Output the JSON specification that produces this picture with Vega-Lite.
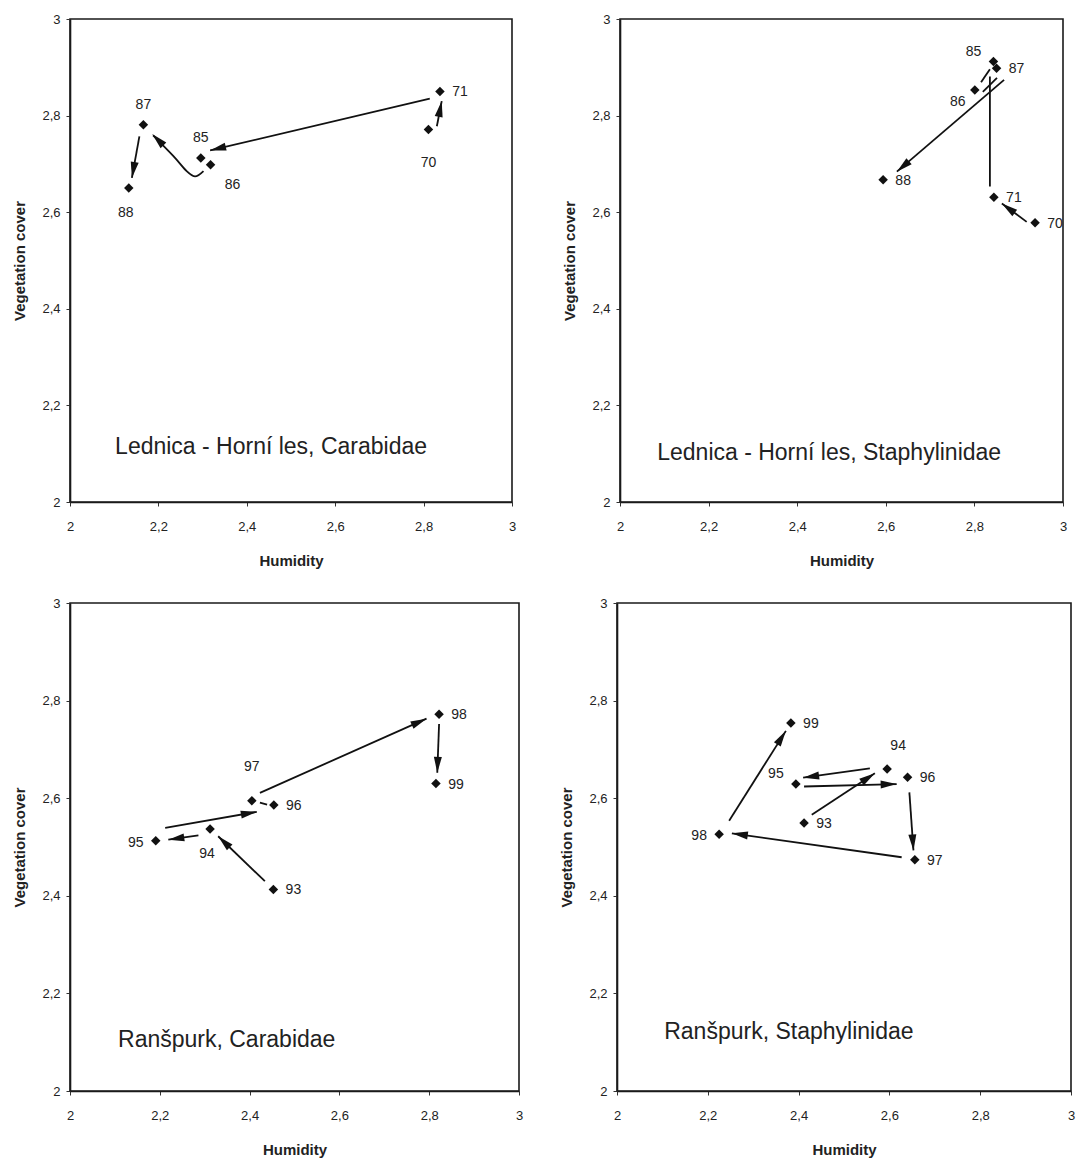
{
  "$schema": "https://vega.github.io/schema/vega-lite/v6.json",
  "background": "white",
  "padding": {"left": 12, "top": 12, "right": 0, "bottom": 0},
  "data": {"values": [
    {"panel":"P1","kind":"point","x":2.811,"y":2.771,"label":"70","pos":"far-below"},
    {"panel":"P1","kind":"point","x":2.837,"y":2.850,"label":"71","pos":"right"},
    {"panel":"P1","kind":"point","x":2.296,"y":2.712,"label":"85","pos":"above"},
    {"panel":"P1","kind":"point","x":2.318,"y":2.698,"label":"86","pos":"below-right"},
    {"panel":"P1","kind":"point","x":2.166,"y":2.781,"label":"87","pos":"above"},
    {"panel":"P1","kind":"point","x":2.133,"y":2.650,"label":"88","pos":"below"},
    {"panel":"P2","kind":"point","x":2.937,"y":2.578,"label":"70","pos":"right"},
    {"panel":"P2","kind":"point","x":2.844,"y":2.631,"label":"71","pos":"right"},
    {"panel":"P2","kind":"point","x":2.843,"y":2.912,"label":"85","pos":"above-left"},
    {"panel":"P2","kind":"point","x":2.801,"y":2.853,"label":"86","pos":"below-left"},
    {"panel":"P2","kind":"point","x":2.850,"y":2.898,"label":"87","pos":"right"},
    {"panel":"P2","kind":"point","x":2.594,"y":2.667,"label":"88","pos":"right"},
    {"panel":"P3","kind":"point","x":2.453,"y":2.413,"label":"93","pos":"right"},
    {"panel":"P3","kind":"point","x":2.312,"y":2.537,"label":"94","pos":"below"},
    {"panel":"P3","kind":"point","x":2.191,"y":2.513,"label":"95","pos":"left"},
    {"panel":"P3","kind":"point","x":2.454,"y":2.586,"label":"96","pos":"right"},
    {"panel":"P3","kind":"point","x":2.405,"y":2.595,"label":"97","pos":"far-above"},
    {"panel":"P3","kind":"point","x":2.822,"y":2.772,"label":"98","pos":"right"},
    {"panel":"P3","kind":"point","x":2.815,"y":2.630,"label":"99","pos":"right"},
    {"panel":"P4","kind":"point","x":2.412,"y":2.549,"label":"93","pos":"right"},
    {"panel":"P4","kind":"point","x":2.595,"y":2.660,"label":"94","pos":"above-right"},
    {"panel":"P4","kind":"point","x":2.394,"y":2.629,"label":"95","pos":"above-left"},
    {"panel":"P4","kind":"point","x":2.640,"y":2.643,"label":"96","pos":"right"},
    {"panel":"P4","kind":"point","x":2.656,"y":2.474,"label":"97","pos":"right"},
    {"panel":"P4","kind":"point","x":2.225,"y":2.526,"label":"98","pos":"left"},
    {"panel":"P4","kind":"point","x":2.383,"y":2.754,"label":"99","pos":"right"},
    {"panel":"P1","kind":"arrow","x":2.830,"y":2.778,"x2":2.841,"y2":2.830},
    {"panel":"P1","kind":"arrow","x":2.814,"y":2.835,"x2":2.317,"y2":2.728},
    {"panel":"P1","kind":"head","x":2.215,"y":2.735,"x2":2.186,"y2":2.762},
    {"panel":"P1","kind":"arrow","x":2.157,"y":2.757,"x2":2.140,"y2":2.671},
    {"panel":"P1","kind":"curve","i":1,"x":2.302,"y":2.685},
    {"panel":"P1","kind":"curve","i":2,"x":2.283,"y":2.674},
    {"panel":"P1","kind":"curve","i":3,"x":2.264,"y":2.685},
    {"panel":"P1","kind":"curve","i":4,"x":2.234,"y":2.716},
    {"panel":"P1","kind":"curve","i":5,"x":2.188,"y":2.759},
    {"panel":"P2","kind":"arrow","x":2.918,"y":2.580,"x2":2.862,"y2":2.618},
    {"panel":"P2","kind":"line","x":2.835,"y":2.653,"x2":2.835,"y2":2.881},
    {"panel":"P2","kind":"line","x":2.835,"y":2.896,"x2":2.815,"y2":2.869},
    {"panel":"P2","kind":"line","x":2.819,"y":2.849,"x2":2.851,"y2":2.878},
    {"panel":"P2","kind":"arrow","x":2.867,"y":2.874,"x2":2.625,"y2":2.684},
    {"panel":"P3","kind":"arrow","x":2.434,"y":2.430,"x2":2.330,"y2":2.522},
    {"panel":"P3","kind":"arrow","x":2.286,"y":2.524,"x2":2.219,"y2":2.515},
    {"panel":"P3","kind":"arrow","x":2.212,"y":2.539,"x2":2.416,"y2":2.572},
    {"panel":"P3","kind":"line","x":2.439,"y":2.587,"x2":2.423,"y2":2.591},
    {"panel":"P3","kind":"arrow","x":2.423,"y":2.611,"x2":2.794,"y2":2.763},
    {"panel":"P3","kind":"arrow","x":2.822,"y":2.752,"x2":2.818,"y2":2.652},
    {"panel":"P4","kind":"arrow","x":2.429,"y":2.566,"x2":2.568,"y2":2.651},
    {"panel":"P4","kind":"arrow","x":2.557,"y":2.661,"x2":2.410,"y2":2.642},
    {"panel":"P4","kind":"arrow","x":2.412,"y":2.624,"x2":2.616,"y2":2.629},
    {"panel":"P4","kind":"arrow","x":2.644,"y":2.612,"x2":2.653,"y2":2.493},
    {"panel":"P4","kind":"arrow","x":2.627,"y":2.479,"x2":2.253,"y2":2.528},
    {"panel":"P4","kind":"arrow","x":2.247,"y":2.554,"x2":2.372,"y2":2.738},
    {"panel":"P1","kind":"title","x":2.102,"y":2.114,"text":"Lednica - Horní les, Carabidae"},
    {"panel":"P2","kind":"title","x":2.084,"y":2.101,"text":"Lednica - Horní les, Staphylinidae"},
    {"panel":"P3","kind":"title","x":2.107,"y":2.105,"text":"Ranšpurk, Carabidae"},
    {"panel":"P4","kind":"title","x":2.104,"y":2.121,"text":"Ranšpurk, Staphylinidae"}
  ]},
  "spacing": 27,
  "vconcat": [
    {
      "spacing": 45,
      "hconcat": [
        {
          "width": 442, "height": 483,
          "transform": [{"filter": "datum.panel == 'P1'"}],
          "encoding": {
            "x": {"field": "x", "type": "quantitative", "title": "Humidity", "scale": {"domain": [2,3], "nice": false, "zero": false}, "axis": {"title": "Humidity", "values": [2,2.2,2.4,2.6,2.8,3], "labelExpr": "replace(format(datum.value,'~g'),'.',',')", "labelPadding": 14, "titlePadding": 20}},
            "y": {"field": "y", "type": "quantitative", "title": "Vegetation cover", "scale": {"domain": [2,3], "nice": false, "zero": false}, "axis": {"title": "Vegetation cover", "values": [2,2.2,2.4,2.6,2.8,3], "labelExpr": "replace(format(datum.value,'~g'),'.',',')", "labelPadding": 6, "titlePadding": 14}}
          },
          "layer": [
            {"transform": [{"filter": "datum.kind == 'arrow' || datum.kind == 'line'"}], "mark": {"type": "rule", "color": "#111", "strokeWidth": 1.8}, "encoding": {"x2": {"field": "x2"}, "y2": {"field": "y2"}}},
            {"transform": [{"filter": "datum.kind == 'curve'"}], "mark": {"type": "line", "color": "#111", "strokeWidth": 1.8, "interpolate": "cardinal"}, "encoding": {"order": {"field": "i", "type": "quantitative"}}},
            {"transform": [{"filter": "datum.kind == 'arrow' || datum.kind == 'head'"}, {"calculate": "atan2((datum.x2 - datum.x) * 442, (datum.y2 - datum.y) * 483) * 180 / PI", "as": "angle"}],
             "mark": {"type": "point", "shape": "M0,0L0.5,2L-0.5,2Z", "filled": true, "color": "#111", "opacity": 1, "size": 256, "strokeWidth": 0},
             "encoding": {
               "x": {"field": "x2", "type": "quantitative", "title": "Humidity", "scale": {"domain": [2,3], "nice": false, "zero": false}, "axis": {"title": "Humidity", "values": [2,2.2,2.4,2.6,2.8,3], "labelExpr": "replace(format(datum.value,'~g'),'.',',')", "labelPadding": 14, "titlePadding": 20}},
               "y": {"field": "y2", "type": "quantitative", "title": "Vegetation cover", "scale": {"domain": [2,3], "nice": false, "zero": false}, "axis": {"title": "Vegetation cover", "values": [2,2.2,2.4,2.6,2.8,3], "labelExpr": "replace(format(datum.value,'~g'),'.',',')", "labelPadding": 6, "titlePadding": 14}},
               "angle": {"field": "angle", "type": "quantitative", "scale": null}
             }},
            {"transform": [{"filter": "datum.kind == 'point'"}], "mark": {"type": "point", "shape": "diamond", "filled": true, "color": "#111", "opacity": 1, "size": 90}},
            {"transform": [{"filter": "datum.kind == 'point'"}],
             "mark": {"type": "text", "font": "Liberation Sans", "fontSize": 14, "color": "#222", "align": "center", "baseline": "middle",
               "dx": {"expr": "datum.pos=='right'?20:datum.pos=='left'?-20:datum.pos=='below'?-3:datum.pos=='below-right'?22:datum.pos=='above-left'?-20:datum.pos=='above-right'?11:datum.pos=='below-left'?-17:0"},
               "dy": {"expr": "datum.pos=='right'?1:datum.pos=='left'?2:datum.pos=='above'?-20:datum.pos=='below'?25:datum.pos=='far-below'?33:datum.pos=='far-above'?-34:datum.pos=='below-right'?20:datum.pos=='above-left'?-10:datum.pos=='above-right'?-23:datum.pos=='below-left'?12:0"}},
             "encoding": {"text": {"field": "label", "type": "nominal"}}},
            {"transform": [{"filter": "datum.kind == 'title'"}], "mark": {"type": "text", "font": "Liberation Sans", "fontSize": 23, "color": "#222", "align": "left", "baseline": "middle"}, "encoding": {"text": {"field": "text", "type": "nominal"}}}
          ]
        },
        {
          "width": 443, "height": 483,
          "transform": [{"filter": "datum.panel == 'P2'"}],
          "encoding": {
            "x": {"field": "x", "type": "quantitative", "title": "Humidity", "scale": {"domain": [2,3], "nice": false, "zero": false}, "axis": {"title": "Humidity", "values": [2,2.2,2.4,2.6,2.8,3], "labelExpr": "replace(format(datum.value,'~g'),'.',',')", "labelPadding": 14, "titlePadding": 20}},
            "y": {"field": "y", "type": "quantitative", "title": "Vegetation cover", "scale": {"domain": [2,3], "nice": false, "zero": false}, "axis": {"title": "Vegetation cover", "values": [2,2.2,2.4,2.6,2.8,3], "labelExpr": "replace(format(datum.value,'~g'),'.',',')", "labelPadding": 6, "titlePadding": 14}}
          },
          "layer": [
            {"transform": [{"filter": "datum.kind == 'arrow' || datum.kind == 'line'"}], "mark": {"type": "rule", "color": "#111", "strokeWidth": 1.8}, "encoding": {"x2": {"field": "x2"}, "y2": {"field": "y2"}}},
            {"transform": [{"filter": "datum.kind == 'arrow' || datum.kind == 'head'"}, {"calculate": "atan2((datum.x2 - datum.x) * 443, (datum.y2 - datum.y) * 483) * 180 / PI", "as": "angle"}],
             "mark": {"type": "point", "shape": "M0,0L0.5,2L-0.5,2Z", "filled": true, "color": "#111", "opacity": 1, "size": 256, "strokeWidth": 0},
             "encoding": {
               "x": {"field": "x2", "type": "quantitative", "title": "Humidity", "scale": {"domain": [2,3], "nice": false, "zero": false}, "axis": {"title": "Humidity", "values": [2,2.2,2.4,2.6,2.8,3], "labelExpr": "replace(format(datum.value,'~g'),'.',',')", "labelPadding": 14, "titlePadding": 20}},
               "y": {"field": "y2", "type": "quantitative", "title": "Vegetation cover", "scale": {"domain": [2,3], "nice": false, "zero": false}, "axis": {"title": "Vegetation cover", "values": [2,2.2,2.4,2.6,2.8,3], "labelExpr": "replace(format(datum.value,'~g'),'.',',')", "labelPadding": 6, "titlePadding": 14}},
               "angle": {"field": "angle", "type": "quantitative", "scale": null}
             }},
            {"transform": [{"filter": "datum.kind == 'point'"}], "mark": {"type": "point", "shape": "diamond", "filled": true, "color": "#111", "opacity": 1, "size": 90}},
            {"transform": [{"filter": "datum.kind == 'point'"}],
             "mark": {"type": "text", "font": "Liberation Sans", "fontSize": 14, "color": "#222", "align": "center", "baseline": "middle",
               "dx": {"expr": "datum.pos=='right'?20:datum.pos=='left'?-20:datum.pos=='below'?-3:datum.pos=='below-right'?22:datum.pos=='above-left'?-20:datum.pos=='above-right'?11:datum.pos=='below-left'?-17:0"},
               "dy": {"expr": "datum.pos=='right'?1:datum.pos=='left'?2:datum.pos=='above'?-20:datum.pos=='below'?25:datum.pos=='far-below'?33:datum.pos=='far-above'?-34:datum.pos=='below-right'?20:datum.pos=='above-left'?-10:datum.pos=='above-right'?-23:datum.pos=='below-left'?12:0"}},
             "encoding": {"text": {"field": "label", "type": "nominal"}}},
            {"transform": [{"filter": "datum.kind == 'title'"}], "mark": {"type": "text", "font": "Liberation Sans", "fontSize": 23, "color": "#222", "align": "left", "baseline": "middle"}, "encoding": {"text": {"field": "text", "type": "nominal"}}}
          ]
        }
      ]
    },
    {
      "spacing": 35,
      "hconcat": [
        {
          "width": 449, "height": 488,
          "transform": [{"filter": "datum.panel == 'P3'"}],
          "encoding": {
            "x": {"field": "x", "type": "quantitative", "title": "Humidity", "scale": {"domain": [2,3], "nice": false, "zero": false}, "axis": {"title": "Humidity", "values": [2,2.2,2.4,2.6,2.8,3], "labelExpr": "replace(format(datum.value,'~g'),'.',',')", "labelPadding": 14, "titlePadding": 20}},
            "y": {"field": "y", "type": "quantitative", "title": "Vegetation cover", "scale": {"domain": [2,3], "nice": false, "zero": false}, "axis": {"title": "Vegetation cover", "values": [2,2.2,2.4,2.6,2.8,3], "labelExpr": "replace(format(datum.value,'~g'),'.',',')", "labelPadding": 6, "titlePadding": 14}}
          },
          "layer": [
            {"transform": [{"filter": "datum.kind == 'arrow' || datum.kind == 'line'"}], "mark": {"type": "rule", "color": "#111", "strokeWidth": 1.8}, "encoding": {"x2": {"field": "x2"}, "y2": {"field": "y2"}}},
            {"transform": [{"filter": "datum.kind == 'arrow' || datum.kind == 'head'"}, {"calculate": "atan2((datum.x2 - datum.x) * 449, (datum.y2 - datum.y) * 488) * 180 / PI", "as": "angle"}],
             "mark": {"type": "point", "shape": "M0,0L0.5,2L-0.5,2Z", "filled": true, "color": "#111", "opacity": 1, "size": 256, "strokeWidth": 0},
             "encoding": {
               "x": {"field": "x2", "type": "quantitative", "title": "Humidity", "scale": {"domain": [2,3], "nice": false, "zero": false}, "axis": {"title": "Humidity", "values": [2,2.2,2.4,2.6,2.8,3], "labelExpr": "replace(format(datum.value,'~g'),'.',',')", "labelPadding": 14, "titlePadding": 20}},
               "y": {"field": "y2", "type": "quantitative", "title": "Vegetation cover", "scale": {"domain": [2,3], "nice": false, "zero": false}, "axis": {"title": "Vegetation cover", "values": [2,2.2,2.4,2.6,2.8,3], "labelExpr": "replace(format(datum.value,'~g'),'.',',')", "labelPadding": 6, "titlePadding": 14}},
               "angle": {"field": "angle", "type": "quantitative", "scale": null}
             }},
            {"transform": [{"filter": "datum.kind == 'point'"}], "mark": {"type": "point", "shape": "diamond", "filled": true, "color": "#111", "opacity": 1, "size": 90}},
            {"transform": [{"filter": "datum.kind == 'point'"}],
             "mark": {"type": "text", "font": "Liberation Sans", "fontSize": 14, "color": "#222", "align": "center", "baseline": "middle",
               "dx": {"expr": "datum.pos=='right'?20:datum.pos=='left'?-20:datum.pos=='below'?-3:datum.pos=='below-right'?22:datum.pos=='above-left'?-20:datum.pos=='above-right'?11:datum.pos=='below-left'?-17:0"},
               "dy": {"expr": "datum.pos=='right'?1:datum.pos=='left'?2:datum.pos=='above'?-20:datum.pos=='below'?25:datum.pos=='far-below'?33:datum.pos=='far-above'?-34:datum.pos=='below-right'?20:datum.pos=='above-left'?-10:datum.pos=='above-right'?-23:datum.pos=='below-left'?12:0"}},
             "encoding": {"text": {"field": "label", "type": "nominal"}}},
            {"transform": [{"filter": "datum.kind == 'title'"}], "mark": {"type": "text", "font": "Liberation Sans", "fontSize": 23, "color": "#222", "align": "left", "baseline": "middle"}, "encoding": {"text": {"field": "text", "type": "nominal"}}}
          ]
        },
        {
          "width": 454, "height": 488,
          "transform": [{"filter": "datum.panel == 'P4'"}],
          "encoding": {
            "x": {"field": "x", "type": "quantitative", "title": "Humidity", "scale": {"domain": [2,3], "nice": false, "zero": false}, "axis": {"title": "Humidity", "values": [2,2.2,2.4,2.6,2.8,3], "labelExpr": "replace(format(datum.value,'~g'),'.',',')", "labelPadding": 14, "titlePadding": 20}},
            "y": {"field": "y", "type": "quantitative", "title": "Vegetation cover", "scale": {"domain": [2,3], "nice": false, "zero": false}, "axis": {"title": "Vegetation cover", "values": [2,2.2,2.4,2.6,2.8,3], "labelExpr": "replace(format(datum.value,'~g'),'.',',')", "labelPadding": 6, "titlePadding": 14}}
          },
          "layer": [
            {"transform": [{"filter": "datum.kind == 'arrow' || datum.kind == 'line'"}], "mark": {"type": "rule", "color": "#111", "strokeWidth": 1.8}, "encoding": {"x2": {"field": "x2"}, "y2": {"field": "y2"}}},
            {"transform": [{"filter": "datum.kind == 'arrow' || datum.kind == 'head'"}, {"calculate": "atan2((datum.x2 - datum.x) * 454, (datum.y2 - datum.y) * 488) * 180 / PI", "as": "angle"}],
             "mark": {"type": "point", "shape": "M0,0L0.5,2L-0.5,2Z", "filled": true, "color": "#111", "opacity": 1, "size": 256, "strokeWidth": 0},
             "encoding": {
               "x": {"field": "x2", "type": "quantitative", "title": "Humidity", "scale": {"domain": [2,3], "nice": false, "zero": false}, "axis": {"title": "Humidity", "values": [2,2.2,2.4,2.6,2.8,3], "labelExpr": "replace(format(datum.value,'~g'),'.',',')", "labelPadding": 14, "titlePadding": 20}},
               "y": {"field": "y2", "type": "quantitative", "title": "Vegetation cover", "scale": {"domain": [2,3], "nice": false, "zero": false}, "axis": {"title": "Vegetation cover", "values": [2,2.2,2.4,2.6,2.8,3], "labelExpr": "replace(format(datum.value,'~g'),'.',',')", "labelPadding": 6, "titlePadding": 14}},
               "angle": {"field": "angle", "type": "quantitative", "scale": null}
             }},
            {"transform": [{"filter": "datum.kind == 'point'"}], "mark": {"type": "point", "shape": "diamond", "filled": true, "color": "#111", "opacity": 1, "size": 90}},
            {"transform": [{"filter": "datum.kind == 'point'"}],
             "mark": {"type": "text", "font": "Liberation Sans", "fontSize": 14, "color": "#222", "align": "center", "baseline": "middle",
               "dx": {"expr": "datum.pos=='right'?20:datum.pos=='left'?-20:datum.pos=='below'?-3:datum.pos=='below-right'?22:datum.pos=='above-left'?-20:datum.pos=='above-right'?11:datum.pos=='below-left'?-17:0"},
               "dy": {"expr": "datum.pos=='right'?1:datum.pos=='left'?2:datum.pos=='above'?-20:datum.pos=='below'?25:datum.pos=='far-below'?33:datum.pos=='far-above'?-34:datum.pos=='below-right'?20:datum.pos=='above-left'?-10:datum.pos=='above-right'?-23:datum.pos=='below-left'?12:0"}},
             "encoding": {"text": {"field": "label", "type": "nominal"}}},
            {"transform": [{"filter": "datum.kind == 'title'"}], "mark": {"type": "text", "font": "Liberation Sans", "fontSize": 23, "color": "#222", "align": "left", "baseline": "middle"}, "encoding": {"text": {"field": "text", "type": "nominal"}}}
          ]
        }
      ]
    }
  ],
  "config": {
    "font": "Liberation Sans",
    "view": {"stroke": "#1a1a1a", "strokeWidth": 1.6},
    "axis": {
      "grid": false,
      "domainColor": "#1a1a1a",
      "domainWidth": 1.6,
      "tickColor": "#333",
      "tickSize": 4,
      "labelFont": "Liberation Sans",
      "labelFontSize": 13,
      "labelColor": "#222",
      "labelOverlap": false,
      "labelFlush": false,
      "titleFont": "Liberation Sans",
      "titleFontSize": 15,
      "titleFontWeight": "bold",
      "titleColor": "#222"
    }
  }
}
